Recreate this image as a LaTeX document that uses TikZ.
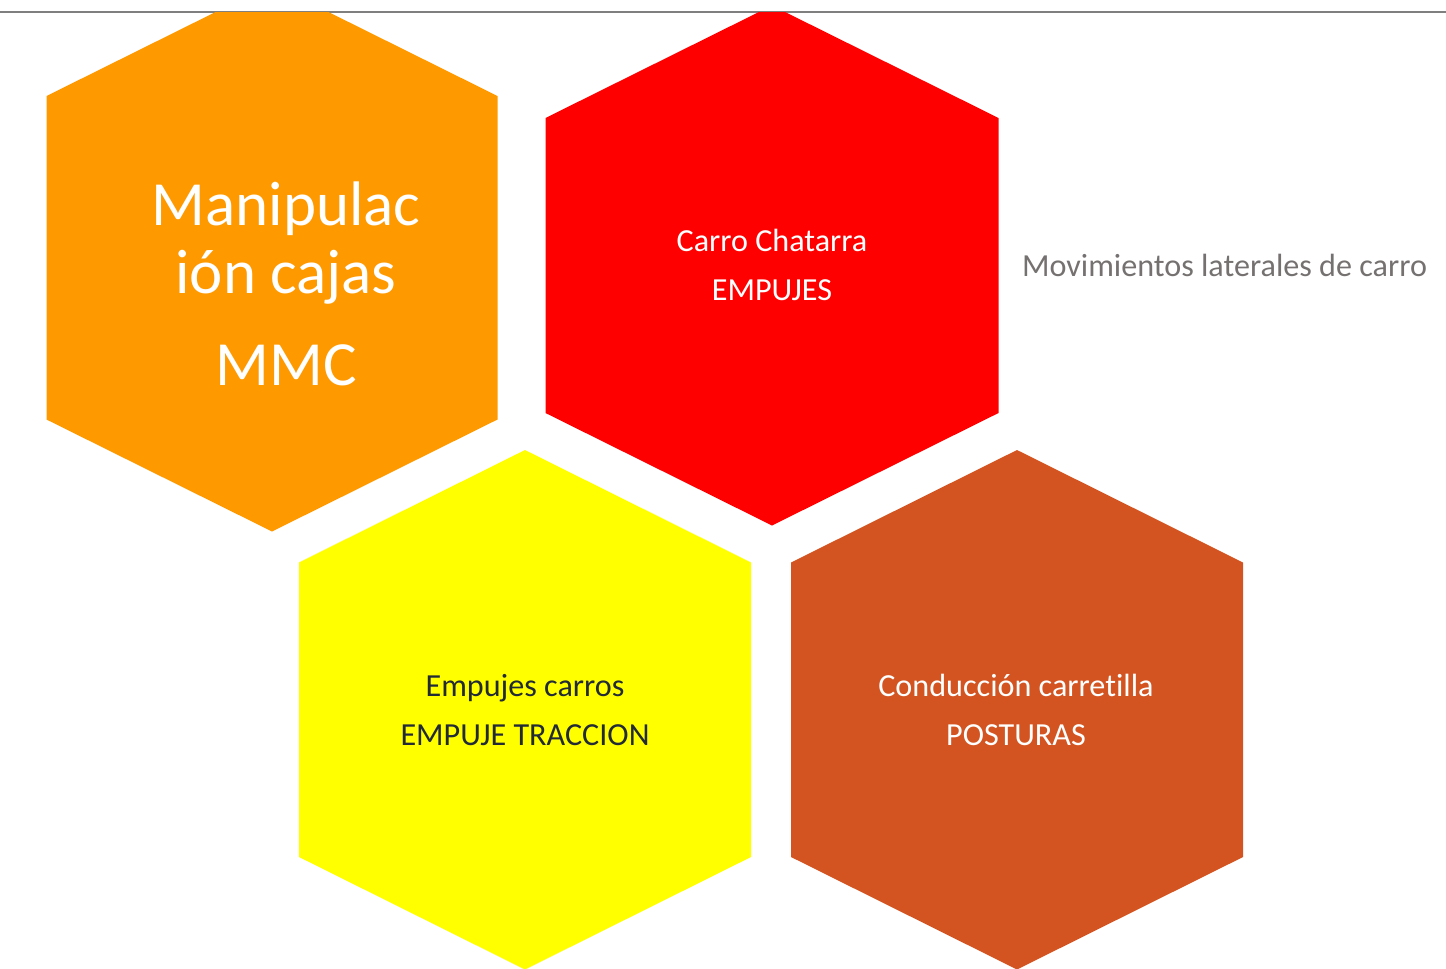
\documentclass[tikz,border=0pt]{standalone}
\usepackage{fontspec}
\setmainfont{Carlito}[Ligatures=CommonOff]
\usetikzlibrary{positioning}
\definecolor{hexorange}{HTML}{FF9900}
\definecolor{hexred}{HTML}{FF0000}
\definecolor{hexyellow}{HTML}{FFFF00}
\definecolor{hexbrown}{HTML}{D35420}
\definecolor{darktext}{HTML}{222A35}
\definecolor{sidegray}{HTML}{767171}
\definecolor{rulegray}{HTML}{7F7F7F}
\tikzstyle{hexlabel} = [align=center, inner sep=0pt, font=\fontsize{18.3}{27.6}\selectfont]
\tikzstyle{biglabel} = [align=center, inner sep=0pt, font=\fontsize{35.8}{38.7}\selectfont, text=white]
\tikzstyle{toprule} = [draw=rulegray, line width=0.04cm]
% centre x, half width, side top y, side bottom y, rise, colour
\newcommand{\hexshape}[6]{%
  \fill[#6] (#1,#3-#5) -- (#1+#2,#3) -- (#1+#2,#4) -- (#1,#4+#5)
    -- (#1-#2,#4) -- (#1-#2,#3) -- cycle;}

\begin{document}
\begin{tikzpicture}[x=0.02cm, y=-0.02cm]
				\useasboundingbox (0,0) rectangle (1446,968);
				% Rule at the top
				\draw [toprule] (0,11.5) -- (1446,11.5);
				% Hexagons
				\begin{scope}
				\clip (0,12.7) rectangle (1446,968);
				\hexshape{272}{225.5}{96}{419.5}{112}{hexorange}
				\hexshape{772}{226.5}{118}{413}{112.5}{hexred}
				\hexshape{525}{226}{562.5}{857}{112.5}{hexyellow}
				\hexshape{1017}{226}{562.5}{857}{112.5}{hexbrown}
				\end{scope}
				% Labels
				\node [biglabel] (mmc) at (286,284) {Manipulac\\ión cajas\\[13.7pt]MMC};
				\node [hexlabel, text=white] (chatarra) at (772,265) {Carro Chatarra\\EMPUJES};
				\node [hexlabel, text=sidegray] (lateral) at (1224.5,265) {Movimientos laterales de carro};
				\node [hexlabel, text=darktext] (traccion) at (525,710) {Empujes carros\\EMPUJE TRACCION};
				\node [hexlabel, text=white] (posturas) at (1016,710) {Conducción carretilla\\POSTURAS};
				\end{tikzpicture}
\end{document}
